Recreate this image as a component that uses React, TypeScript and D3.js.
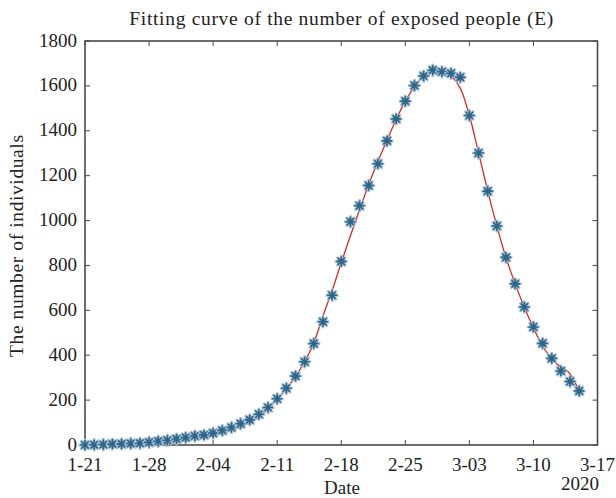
import React from "react";
import * as d3 from "d3";

// Observed exposed counts, one per day starting 2020-01-21
const observedE = [
  0, 1, 2, 4, 5, 7, 8, 12, 17, 21, 27, 33, 40, 45, 53, 65, 78, 95, 112, 137,
  167, 206, 253, 307, 371, 452, 549, 667, 818, 995, 1066, 1156, 1253, 1355,
  1453, 1532, 1602, 1644, 1670, 1663, 1656, 1638, 1468, 1301, 1131, 976, 836,
  718, 615, 526, 453, 386, 330, 283, 241,
];

// Fitted model curve: day offset and value
const fitDay = [
  0, 2, 4, 6, 8, 10, 12, 14, 16, 18, 19, 20, 21, 22, 23, 24, 25, 26, 27, 28,
  29, 30, 31, 32, 33, 34, 35, 36, 37, 38, 38.6, 39.5, 40, 41, 42, 43, 44, 45,
  46, 47, 48, 49, 50, 51, 51.6, 52.2, 52.7, 53.2, 54,
];
const fitValue = [
  0, 2, 4, 7, 12, 20, 31, 45, 65, 100, 125, 160, 202, 250, 305, 372, 455, 575,
  688, 812, 932, 1048, 1160, 1263, 1358, 1450, 1532, 1596, 1638, 1661, 1665,
  1658, 1645, 1590, 1468, 1303, 1133, 975, 835, 719, 614, 522, 440, 385, 360,
  342, 330, 305, 238,
];

const xTickDays = [0, 7, 14, 21, 28, 35, 42, 49, 56];
const xTickLabels = ["1-21", "1-28", "2-04", "2-11", "2-18", "2-25", "3-03", "3-10", "3-17"];
const yTicks = [0, 200, 400, 600, 800, 1000, 1200, 1400, 1600, 1800];

const W = 616;
const H = 498;
const L = 85;
const R = 597.5;
const T = 41;
const B = 445;
const FONT = "'Liberation Serif', 'Times New Roman', serif";

export default function App() {
  const x = d3.scaleLinear().domain([0, 56]).range([L, R]);
  const y = d3.scaleLinear().domain([0, 1800]).range([B, T]);

  const fitPath =
    d3
      .line<number>()
      .x((_, i) => x(fitDay[i]))
      .y((v) => y(v))
      .curve(d3.curveCatmullRom.alpha(0.5))(fitValue) || "";

  const star = (r: number) => {
    const d = r * Math.SQRT1_2;
    return `M${-r},0L${r},0M0,${-r}L0,${r}M${-d},${-d}L${d},${d}M${-d},${d}L${d},${-d}`;
  };

  const axisColor = "#4a4a4a";
  const tickLen = 5;

  return (
    <svg
      width={W}
      height={H}
      style={{ position: "absolute", left: 0, top: 0, background: "#fff" }}
      fontFamily={FONT}
    >
      <rect x={0} y={0} width={W} height={H} fill="#fff" />
      <text
        x={(L + R) / 2}
        y={25}
        textAnchor="middle"
        fontSize={19.5}
        textLength={424}
        lengthAdjust="spacing"
        fill="#222"
      >
        Fitting curve of the number of exposed people (E)
      </text>

      {/* ticks on all four sides, pointing inward */}
      {xTickDays.map((d, i) => (
        <g key={"xt" + i}>
          <line x1={x(d)} x2={x(d)} y1={B} y2={B - tickLen} stroke={axisColor} strokeWidth={1} />
          <line x1={x(d)} x2={x(d)} y1={T} y2={T + tickLen} stroke={axisColor} strokeWidth={1} />
          <text x={x(d)} y={470.5} textAnchor="middle" fontSize={19} fill="#222">
            {xTickLabels[i]}
          </text>
        </g>
      ))}
      {yTicks.map((v) => (
        <g key={"yt" + v}>
          <line x1={L} x2={L + tickLen} y1={y(v)} y2={y(v)} stroke={axisColor} strokeWidth={1} />
          <line x1={R} x2={R - tickLen} y1={y(v)} y2={y(v)} stroke={axisColor} strokeWidth={1} />
          <text x={77} y={y(v) + 5.5} textAnchor="end" fontSize={19} fill="#222">
            {v}
          </text>
        </g>
      ))}

      <rect x={L} y={T} width={R - L} height={B - T} fill="none" stroke={axisColor} strokeWidth={1.6} />

      <path d={fitPath} fill="none" stroke="#c8302c" strokeWidth={1.3} />

      {observedE.map((v, i) => (
        <g key={"p" + i} transform={`translate(${x(i)},${y(v)})`}>
          <path d={star(5.2)} stroke="#9dbbd0" strokeWidth={3} strokeLinecap="round" fill="none" />
          <path d={star(5)} stroke="#2f6487" strokeWidth={1.6} fill="none" />
        </g>
      ))}

      <text x={342} y={494} textAnchor="middle" fontSize={19} fill="#222">
        Date
      </text>
      <text x={580} y={490} textAnchor="middle" fontSize={19} fill="#222">
        2020
      </text>
      <text
        transform={`translate(22.5,246) rotate(-90)`}
        textAnchor="middle"
        fontSize={19.5}
        textLength={222}
        lengthAdjust="spacing"
        fill="#222"
      >
        The number of individuals
      </text>
    </svg>
  );
}
